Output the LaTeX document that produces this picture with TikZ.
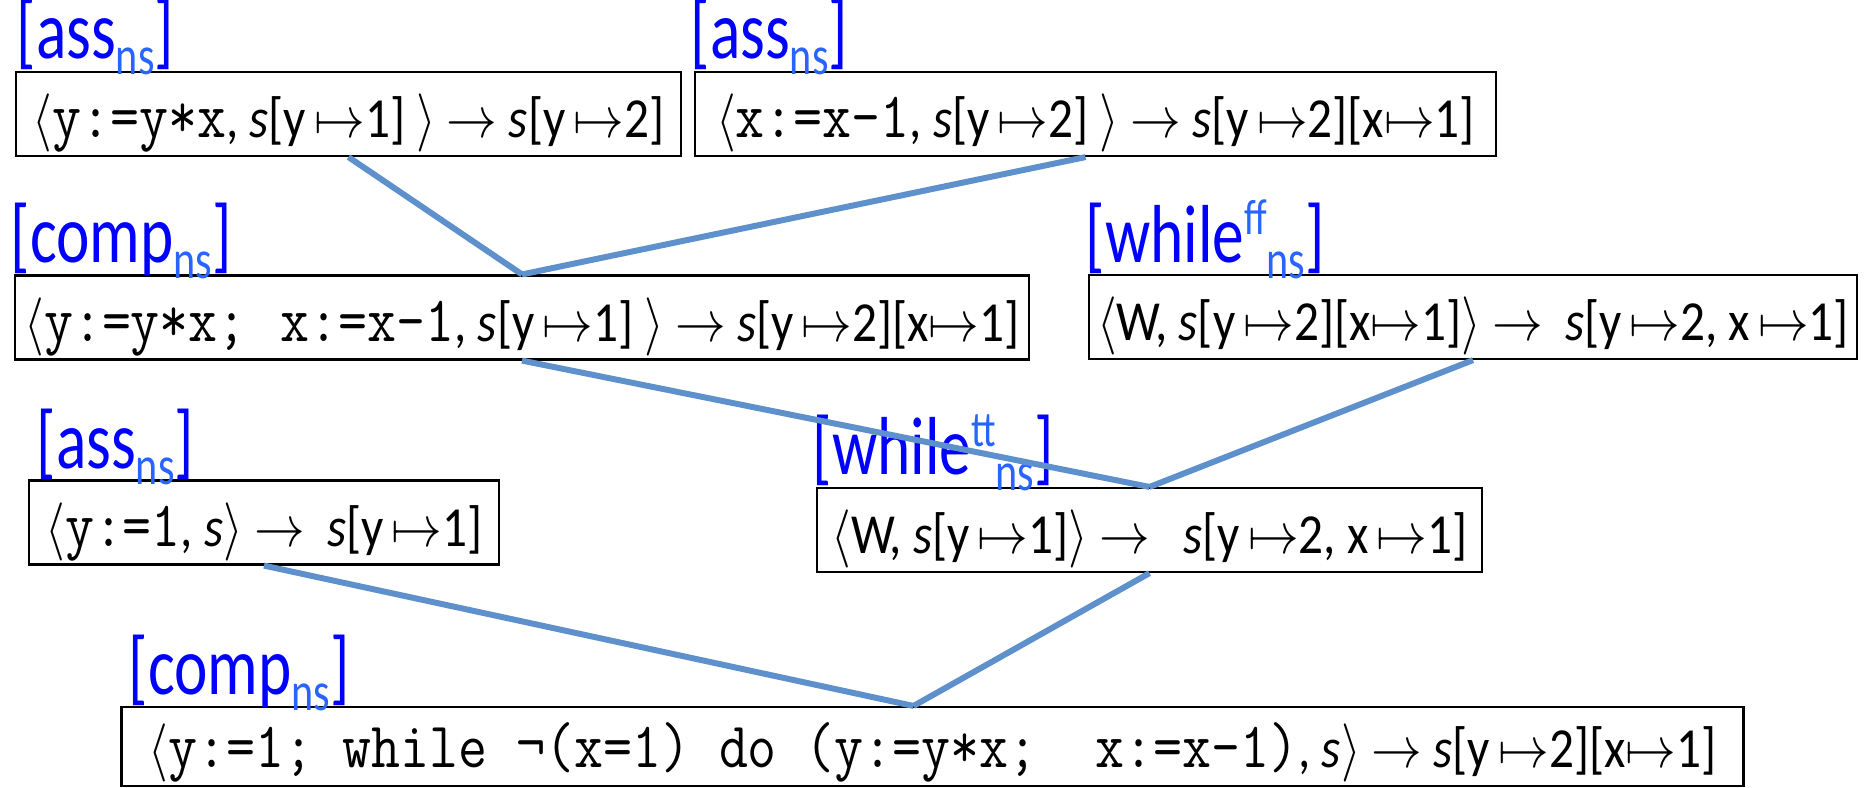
\documentclass[tikz,border=0pt]{standalone}
\usepackage{fontspec}
\setmainfont{Carlito}

\definecolor{rulecol}{RGB}{0,0,255}
\definecolor{nscol}{RGB}{40,100,255}
\definecolor{linkcol}{RGB}{94,145,203}

\newcommand{\nsidx}{\raisebox{-3.5pt}{\color{nscol}\fontsize{12}{12}\selectfont ns}}
\newcommand{\upidx}[1]{\raisebox{6pt}{\color{nscol}\fontsize{11}{11}\selectfont #1}}
\newcommand{\rulename}[1]{\scalebox{1}[1.3]{[#1]}}
\newcommand{\vstretch}[1]{\scalebox{1}[1.15]{#1}}
\newcommand{\code}[1]{{\ttfamily\fontsize{16}{16}\selectfont #1}}
\newcommand{\mto}{\,$\mapsto$}

\tikzset{
  judg/.style={draw, line width=0.6pt, inner sep=0pt, text height=18.5pt, text depth=5pt, minimum height=0.84cm, font=\fontsize{14}{16}\selectfont},
  rulelbl/.style={anchor=base west, inner sep=0pt, text=rulecol, font=\fontsize{18}{20}\selectfont},
  link/.style={linkcol, line width=1.7pt}
}

\begin{document}
\begin{tikzpicture}[x=0.01cm,y=-0.01cm]
\useasboundingbox (0,0) rectangle (1864,787);
% judgements
\node[judg, minimum width=6.65cm] (A) at (348.5,114) {\vstretch{$\langle$\code{y:=y*x}, \textit{s}[y\mto1] $\rangle$ $\rightarrow$ \textit{s}[y\mto2]}};
\node[judg, minimum width=8.01cm] (B) at (1095.5,114) {\vstretch{$\langle$\code{x:=x-1}, \textit{s}[y\mto2] $\rangle$ $\rightarrow$ \textit{s}[y\mto2][x$\mapsto$1]}};
\node[judg, minimum width=10.14cm] (C) at (522,317.5) {\vstretch{$\langle$\code{y:=y*x;\hspace{0.6em}x:=x-1}, \textit{s}[y\mto1] $\rangle$ $\rightarrow$ \textit{s}[y\mto2][x$\mapsto$1]}};
\node[judg, minimum width=7.68cm] (D) at (1473,317) {\vstretch{$\langle$W, \textit{s}[y\mto2][x$\mapsto$1]$\rangle$ $\rightarrow$\ \ \textit{s}[y\mto2, x\mto1]}};
\node[judg, minimum width=4.70cm] (E) at (264,522.5) {\vstretch{$\langle$\code{y:=1}, \textit{s}$\rangle$ $\rightarrow$\ \ \textit{s}[y\mto1]}};
\node[judg, minimum width=6.65cm] (F) at (1149.5,530) {\vstretch{$\langle$W, \textit{s}[y\mto1]$\rangle$ $\rightarrow$\ \ \ \textit{s}[y\mto2, x\mto1]}};
\node[judg, minimum width=16.21cm, minimum height=0.79cm, text height=17pt, text depth=5.2pt] (G) at (932.5,746.5) {\vstretch{$\langle$\code{y:=1; while ¬(x=1) do (y:=y*x;\ \ x:=x-1)}, \textit{s}$\rangle$ $\rightarrow$\ \textit{s}[y\mto2][x$\mapsto$1]}};
% rule names
\node[rulelbl] (lA) at (16,58) {\rulename{ass\nsidx}};
\node[rulelbl] (lB) at (690,58) {\rulename{ass\nsidx}};
\node[rulelbl] (lC) at (10,262) {\rulename{comp\nsidx}};
\node[rulelbl] (lD) at (1085,262) {\rulename{while\upidx{ff}\nsidx}};
\node[rulelbl] (lE) at (36,468) {\rulename{ass\nsidx}};
\node[rulelbl] (lF) at (812,474) {\rulename{while\upidx{tt}\nsidx}};
\node[rulelbl] (lG) at (128,694) {\rulename{comp\nsidx}};
% derivation lines
\draw[link] (A.south) -- (C.north);
\draw[link] ([xshift=-0.1cm]B.south) -- (C.north);
\draw[link] (C.south) -- (F.north);
\draw[link] (D.south) -- (F.north);
\draw[link] (E.south) -- ([xshift=-0.19cm]G.north);
\draw[link] (F.south) -- ([xshift=-0.19cm]G.north);
\end{tikzpicture}
\end{document}
